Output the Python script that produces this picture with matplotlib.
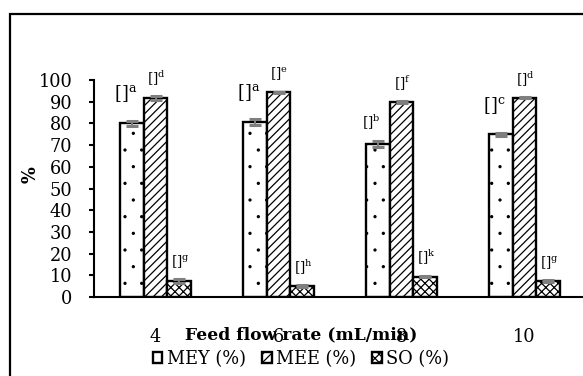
import numpy as np
import matplotlib
matplotlib.use("Agg")
import matplotlib.pyplot as plt
import matplotlib.hatch as mhatch
from matplotlib.patches import Rectangle

plt.rcParams['font.family'] = 'DejaVu Serif'
plt.rcParams['mathtext.fontset'] = 'custom'
plt.rcParams['mathtext.rm'] = 'DejaVu Serif'
plt.rcParams['hatch.linewidth'] = 0.9
# smaller dots for the '.' fill, like the original
mhatch.SmallFilledCircles.size = 0.06

# data
flow_rates = ['4', '6', '8', '10']
series = ['MEY (%)', 'MEE (%)', 'SO (%)']
mey = [80.0, 80.5, 70.5, 75.0]
mee = [91.8, 94.3, 89.8, 91.8]
so = [7.4, 5.0, 9.4, 7.4]
mey_err = [1.2, 1.3, 1.5, 0.7]
mee_err = [0.8, 0.3, 0.3, 0.3]
so_err = [0.8, 0.3, 0.3, 0.3]
mey_letters = ['a', 'a', 'b', 'c']
mee_letters = ['d', 'e', 'f', 'd']
so_letters = ['g', 'h', 'k', 'g']

W, H = 583, 376
fig = plt.figure(figsize=(W / 100, H / 100), dpi=100)
# plot area in pixel terms: left 94, right 586, y=0 at 297, y=100 at 80
ax = fig.add_axes([94 / W, (H - 297) / H, 492 / W, 217 / H])

x = np.arange(len(flow_rates))
bw = 0.195
hatches = ['.', '////', 'xxxx']
values = [mey, mee, so]
errors = [mey_err, mee_err, so_err]
letters = [mey_letters, mee_letters, so_letters]
offsets = [-bw, 0, bw]

for i in range(3):
    ax.bar(x + offsets[i], values[i], bw, color='white', edgecolor='black',
           linewidth=1.7, hatch=hatches[i], label=series[i], zorder=2)
    ax.errorbar(x + offsets[i], values[i], yerr=errors[i], fmt='none',
                ecolor='#7f7f7f', elinewidth=1.5, capsize=4, capthick=2.2, zorder=3)

# significance letters (the [] is a lost glyph in the original)
for i in range(3):
    for j in range(len(flow_rates)):
        big = (i == 0 and mey_letters[j] != 'b')
        dy = 27 if big else 18
        dx = -6 if i == 0 else 1
        ax.annotate('[]$^{\\mathrm{%s}}$' % letters[i][j],
                    xy=(x[j] + offsets[i], values[i][j] + errors[i][j]),
                    xytext=(dx * 0.72, dy * 0.72), textcoords='offset points',
                    ha='center', va='center', fontsize=13 if big else 10,
                    annotation_clip=False)

ax.set_xlim(-0.5, 3.5)
ax.set_ylim(0, 100)
ax.set_yticks(range(0, 101, 10))
ax.set_xticks(x)
ax.set_xticklabels(flow_rates)
ax.tick_params(axis='y', direction='out', length=3.6, width=1.5, pad=12, labelsize=12.8)
ax.tick_params(axis='x', length=0, pad=22, labelsize=12.8)
for s in ['top', 'right']:
    ax.spines[s].set_visible(False)
for s in ['left', 'bottom']:
    ax.spines[s].set_linewidth(1.5)

fig.text(31 / W, (H - 175) / H, '%', rotation=90, ha='center', va='center',
         fontsize=12.8, fontweight='bold')
fig.text(301 / W, (H - 335) / H, 'Feed flow rate (mL/min)', ha='center', va='center',
         fontsize=12.3, fontweight='bold')

leg = fig.legend(loc='center', bbox_to_anchor=(301 / W, (H - 359) / H), ncol=3,
                 frameon=False, fontsize=12.8, handlelength=0.55, handleheight=0.55,
                 handletextpad=0.25, columnspacing=0.9, borderpad=0)

# outer chart border (runs off the right and bottom edges)
fig.patches.append(Rectangle((10 / W, -0.2), 2, (H - 14) / H + 0.2,
                             transform=fig.transFigure, fill=False,
                             edgecolor='black', linewidth=1.6))

fig.savefig('out.png', dpi=100)
